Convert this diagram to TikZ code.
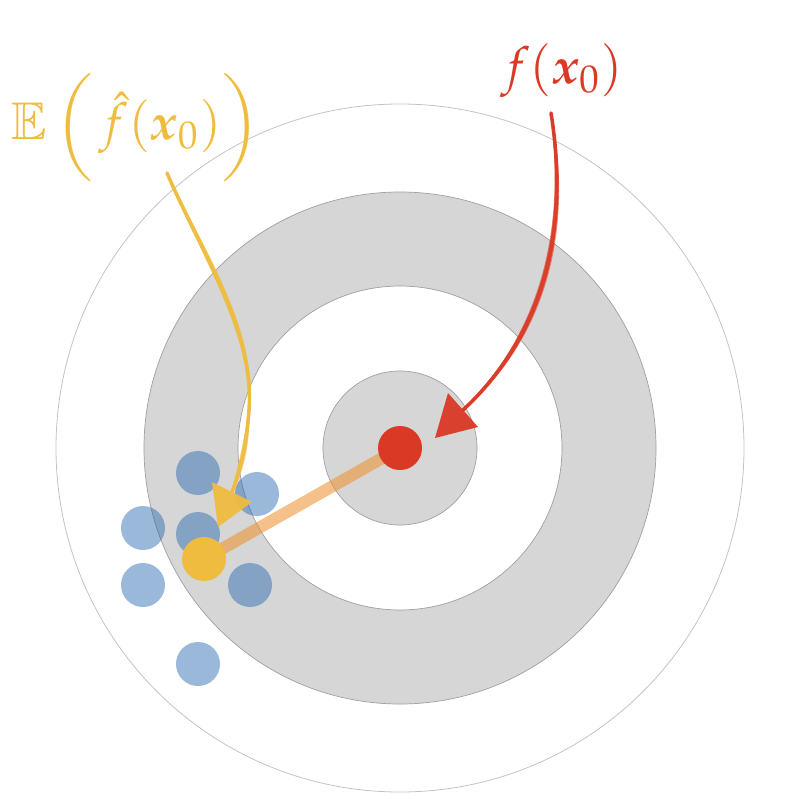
\documentclass[tikz,border=0pt]{standalone}
\usepackage{amsmath}
\usepackage{mathpazo}
\usepackage{bm}
\usepackage{graphicx}
\DeclareMathAlphabet{\mathamsbb}{U}{msb}{m}{n}
\definecolor{ringgray}{RGB}{214,214,214}
\definecolor{edgegray}{RGB}{160,160,160}
\definecolor{outergray}{RGB}{195,195,195}
\definecolor{dotblue}{RGB}{35,102,175}
\definecolor{dotred}{RGB}{218,58,37}
\definecolor{dotyellow}{RGB}{239,188,64}
\definecolor{lineorange}{RGB}{239,143,46}
\newcommand{\bigparen}[1]{\mathopen{\scalebox{1}[0.88]{$\bigg#1$}}}
\newcommand{\bigparenr}[1]{\mathclose{\scalebox{1}[0.88]{$\bigg#1$}}}
\tikzset{
  bluedot/.style={circle, fill=dotblue, fill opacity=0.46, minimum size=44pt, inner sep=0pt, draw=none},
  maindot/.style={circle, minimum size=44pt, inner sep=0pt, draw=none},
  biglabel/.style={scale=5.1, inner sep=0pt},
}
\begin{document}
\begin{tikzpicture}[x=1pt,y=-1pt]
\useasboundingbox (0,0) rectangle (800,800);
\coordinate (c) at (400,448);
% target rings
\draw[outergray, line width=0.8pt] (c) circle[radius=344pt];
\fill[ringgray, even odd rule] (c) circle[radius=256pt] (c) circle[radius=162pt];
\draw[edgegray, line width=0.7pt] (c) circle[radius=256pt] (c) circle[radius=162pt];
\filldraw[fill=ringgray, draw=edgegray, line width=0.7pt] (c) circle[radius=77pt];
% sample estimates
\node[bluedot] (b1) at (198,473) {};
\node[bluedot] (b2) at (257,494) {};
\node[bluedot] (b3) at (143,528) {};
\node[bluedot] (b4) at (198,534) {};
\node[bluedot] (b5) at (143,585) {};
\node[bluedot] (b6) at (250,585) {};
\node[bluedot] (b7) at (198,664) {};
% bias line
\coordinate (pr) at (400,448);
\coordinate (py) at (204,559);
\draw[lineorange, line width=12pt, draw opacity=0.56] (py) -- (pr);
\node[maindot, fill=dotred] (red) at (pr) {};
\node[maindot, fill=dotyellow] (yel) at (py) {};
% labels
\node[biglabel, text=dotred] (lf) at (562,71) {$f(\boldsymbol{x}_0)$};
\node[biglabel, text=dotyellow] (le) at (136,128) {$\mathamsbb{E}\,\bigparen(\mkern2mu\hat{f}(\boldsymbol{x}_0)\bigparenr)$};
% red arrow
\coordinate (rs) at (551,113);
\coordinate (re) at (463,410);
\foreach \d/\w/\o in {0/3.6/0.95, 1.9/1.6/0.75, -1.9/1.6/0.75, 3.3/0.8/0.5, -3.1/0.8/0.5}
  \draw[dotred, line width=\w pt, draw opacity=\o, line cap=round]
    (rs) .. controls ({565+\d},200) and ({560+\d},{320+\d}) .. (re);
\fill[dotred, fill opacity=0.95] (448,393) -- (478,427) -- (435,438) -- cycle;
% yellow arrow
\coordinate (ys) at (167,173);
\coordinate (ym) at (249,410);
\coordinate (ye) at (232,492);
\foreach \d/\w/\o in {0/3.6/0.95, 1.9/1.6/0.75, -1.9/1.6/0.75, 3.3/0.8/0.5, -3.1/0.8/0.5}
  \draw[dotyellow, line width=\w pt, draw opacity=\o, line cap=round]
    (ys) .. controls ({200+\d},250) and ({255+\d},330) .. (ym)
         .. controls ({246+\d},450) and ({240+\d},470) .. (ye);
\fill[dotyellow, fill opacity=0.95] (212,482) -- (252,502) -- (218,527) -- cycle;
\end{tikzpicture}
\end{document}
